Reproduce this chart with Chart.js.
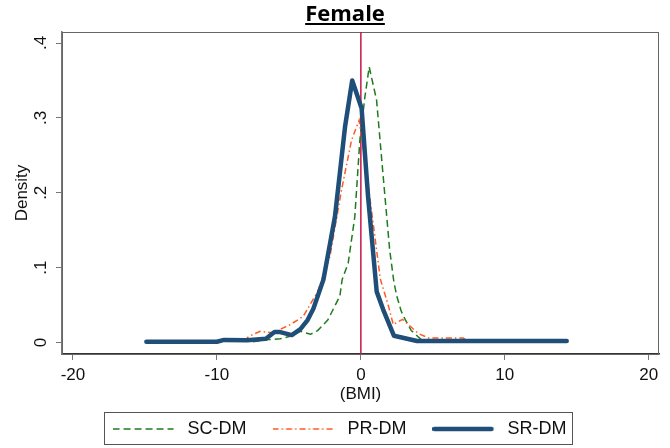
<!DOCTYPE html>
<html><head><meta charset="utf-8">
<script src="https://cdn.jsdelivr.net/npm/chart.js@4.4.1/dist/chart.umd.min.js"></script>
<style>html,body{margin:0;padding:0;background:#fff;}#wrap{width:670px;height:448px;}</style>
</head><body><div id="wrap"><canvas id="c" width="670" height="448"></canvas></div>
<script>
const chartTitle = 'Female';
const seriesNames = ['SC-DM', 'PR-DM', 'SR-DM'];
const xTitle = '(BMI)';
const yTitle = 'Density';
const xTicks = [-20, -10, 0, 10, 20];
const yTicks = [0, 0.1, 0.2, 0.3, 0.4];
const yTickLabels = ['0', '.1', '.2', '.3', '.4'];
const refLineX = 0;

// SC-DM
const scX = [-7.5, -6.4, -5.6, -4.8, -4.2, -3.5, -3.0, -2.3, -1.46, -1.3, -0.88, -0.42, -0.07, 0.28, 0.58, 1.09, 1.55, 2.0, 2.3, 2.5, 2.8, 3.1, 3.5, 4.2, 4.8];
const scY = [0.001, 0.004, 0.005, 0.009, 0.015, 0.011, 0.016, 0.030, 0.062, 0.084, 0.106, 0.168, 0.270, 0.328, 0.368, 0.324, 0.222, 0.124, 0.080, 0.062, 0.042, 0.030, 0.016, 0.004, 0.001];
// PR-DM
const prX = [-8.1, -7.8, -7.0, -6.1, -4.9, -4.0, -3.0, -2.15, -1.34, -0.65, -0.12, 0.28, 0.97, 1.35, 1.9, 2.25, 2.9, 4.0, 4.7, 7.1, 7.5];
const prY = [0.002, 0.008, 0.015, 0.013, 0.024, 0.035, 0.068, 0.115, 0.204, 0.270, 0.297, 0.244, 0.142, 0.085, 0.050, 0.024, 0.031, 0.012, 0.006, 0.006, 0.002];
// SR-DM
const srX = [-14.9, -10.0, -9.5, -7.9, -6.6, -6.0, -5.6, -4.8, -4.2, -3.7, -3.3, -2.6, -1.8, -1.1, -0.6, 0.05, 0.5, 1.1, 1.55, 2.3, 3.9, 14.3];
const srY = [0.001, 0.001, 0.0035, 0.003, 0.005, 0.014, 0.014, 0.010, 0.018, 0.030, 0.045, 0.084, 0.168, 0.288, 0.350, 0.313, 0.195, 0.068, 0.044, 0.009, 0.002, 0.002];

const seriesColors = ['#1e7b1e', '#ff5a22', '#1f4e79'];
const seriesWidths = [1.5, 1.5, 4.5];
const seriesDash = [[7, 4], [6, 3, 1.5, 3], []];
const zip = (xs, ys) => xs.map((x, i) => ({x: x, y: ys[i]}));

const FONT = '"Liberation Sans", Arial, sans-serif';

function sampleImage(i) {
  const cv = document.createElement('canvas');
  cv.width = 66; cv.height = 8;
  const c = cv.getContext('2d');
  c.strokeStyle = seriesColors[i];
  c.lineWidth = seriesWidths[i];
  c.lineCap = i === 2 ? 'round' : 'butt';
  c.setLineDash(seriesDash[i]);
  c.beginPath();
  c.moveTo(i === 2 ? 2 : 0, 4);
  c.lineTo(i === 2 ? 59 : 61, 4);
  c.stroke();
  return cv;
}

const framePlugin = {
  id: 'frame',
  afterLayout(chart) {
    if (chart.legend) { chart.legend.left += 10; chart.legend.right += 10; }
  },
  beforeDatasetsDraw(chart) {
    const {ctx, chartArea: a, scales} = chart;
    ctx.save();
    ctx.strokeStyle = '#666';
    ctx.lineWidth = 1;
    ctx.strokeRect(a.left + 0.5, a.top + 0.5, a.right - a.left - 1, a.bottom - a.top);
    const px = scales.x.getPixelForValue(refLineX);
    ctx.strokeStyle = '#c8154a';
    ctx.lineWidth = 1.5;
    ctx.beginPath();
    ctx.moveTo(px, a.top);
    ctx.lineTo(px, a.bottom);
    ctx.stroke();
    ctx.restore();
  },
  afterDraw(chart) {
    const {ctx, legend} = chart;
    ctx.save();
    ctx.font = 'bold 22px "Open Sans", sans-serif';
    ctx.fillStyle = '#000';
    ctx.textAlign = 'center';
    ctx.textBaseline = 'alphabetic';
    const tx = 345, ty = 21;
    ctx.fillText(chartTitle, tx, ty);
    const w = ctx.measureText(chartTitle).width;
    ctx.fillRect(tx - w / 2, 23, w, 2);
    if (legend && legend.legendHitBoxes && legend.legendHitBoxes.length) {
      const hb = legend.legendHitBoxes;
      const first = hb[0], last = hb[hb.length - 1];
      const cy = first.top + first.height / 2;
      ctx.strokeStyle = '#555';
      ctx.lineWidth = 1;
      ctx.strokeRect(Math.round(first.left - 9) + 0.5, Math.round(cy - 17) + 0.5, Math.round(last.left + last.width + 5 - (first.left - 9)), 32);
    }
    ctx.restore();
  }
};

new Chart(document.getElementById('c'), {
  type: 'line',
  data: {
    datasets: [
      {label: seriesNames[0], data: zip(scX, scY), borderColor: seriesColors[0], backgroundColor: seriesColors[0], borderWidth: seriesWidths[0], borderDash: seriesDash[0], pointRadius: 0, tension: 0, order: 3},
      {label: seriesNames[1], data: zip(prX, prY), borderColor: seriesColors[1], backgroundColor: seriesColors[1], borderWidth: seriesWidths[1], borderDash: seriesDash[1], pointRadius: 0, tension: 0, order: 2},
      {label: seriesNames[2], data: zip(srX, srY), borderColor: seriesColors[2], backgroundColor: seriesColors[2], borderWidth: seriesWidths[2], pointRadius: 0, tension: 0, borderJoinStyle: 'round', borderCapStyle: 'round', order: 1}
    ]
  },
  options: {
    responsive: false,
    animation: false,
    devicePixelRatio: 1,
    layout: {padding: {top: 32, right: 11, left: 0, bottom: 0}},
    plugins: {
      title: {display: false},
      tooltip: {enabled: false},
      legend: {
        display: true,
        position: 'bottom',
        labels: {
          usePointStyle: true,
          pointStyleWidth: 66,
          boxHeight: 18,
          padding: 26,
          color: '#111',
          font: {family: FONT, size: 18},
          generateLabels: chart => chart.data.datasets.map((ds, i) => ({
            text: ds.label,
            fillStyle: ds.borderColor,
            strokeStyle: ds.borderColor,
            lineWidth: ds.borderWidth,
            pointStyle: sampleImage(i),
            hidden: false,
            datasetIndex: i,
            fontColor: '#111'
          }))
        }
      }
    },
    scales: {
      x: {
        type: 'linear',
        min: -20.76,
        max: 20.71,
        afterBuildTicks: s => { s.ticks = xTicks.map(v => ({value: v})); },
        afterFit: s => {
          const lh = (s.chart.legend && s.chart.legend.height) ? s.chart.legend.height : 54;
          s.height = 448 - 354 - lh;
        },
        grid: {display: true, drawOnChartArea: false, drawTicks: true, tickLength: 6, color: '#777', tickColor: '#777', tickWidth: 1},
        border: {display: true, color: '#333', width: 1.5},
        ticks: {color: '#111', font: {family: FONT, size: 17}, padding: 5, maxRotation: 0, minRotation: 0},
        title: {display: true, text: xTitle, color: '#111', font: {family: FONT, size: 17}, padding: {top: 0, bottom: -11}}
      },
      y: {
        type: 'linear',
        min: -0.0153,
        max: 0.4147,
        afterBuildTicks: s => { s.ticks = yTicks.map(v => ({value: v})); },
        afterFit: s => { s.width = 62; },
        grid: {display: true, drawOnChartArea: false, drawTicks: true, tickLength: 6, color: '#777', tickColor: '#777', tickWidth: 1},
        border: {display: true, color: '#777', width: 1.5},
        ticks: {
          color: '#111', font: {family: FONT, size: 17}, padding: 8,
          minRotation: 90, maxRotation: 90, crossAlign: 'center',
          callback: (v) => { const i = yTicks.indexOf(v); return i >= 0 ? yTickLabels[i] : ''; }
        },
        title: {display: true, text: yTitle, color: '#111', font: {family: FONT, size: 17}, padding: {top: 12, bottom: 0}}
      }
    }
  },
  plugins: [framePlugin]
});
</script>
</body></html>
